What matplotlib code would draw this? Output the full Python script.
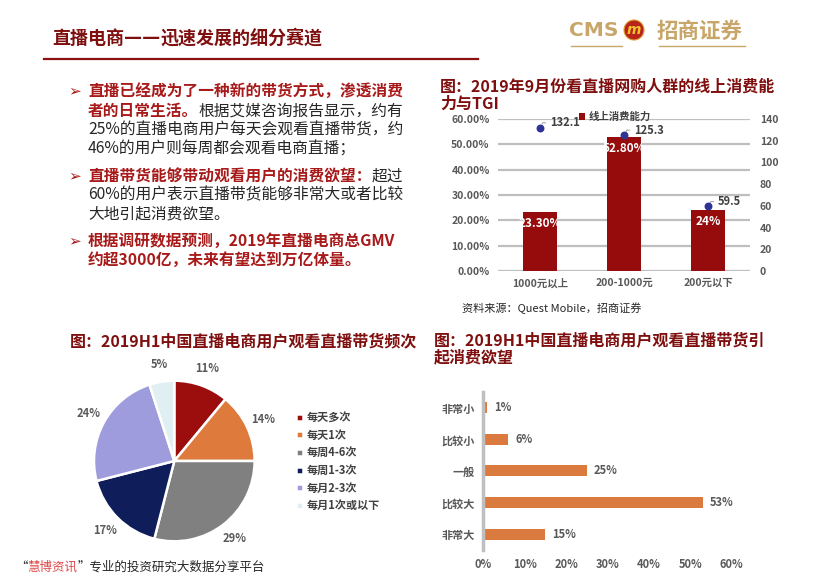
import numpy as np
import matplotlib
matplotlib.use("Agg")
import matplotlib.pyplot as plt
from matplotlib.patches import Circle, Rectangle

plt.rcParams['font.family'] = ['Noto Sans CJK SC', 'DejaVu Sans']

W, H = 815, 576
DARK_RED = '#7F0F0F'
TXT_RED = '#A81A1A'
GRAY = '#595959'
TAN = '#C8A66A'
BLK = '#262626'

# ---- 数据 ----
tgi_cats = ['1000元以上', '200-1000元', '200元以下']
tgi_share = [23.3, 52.8, 24.0]            # 线上消费能力(%)
tgi_share_lbl = ['23.30%', '52.80%', '24%']
tgi_vals = [132.1, 125.3, 59.5]           # TGI

freq_labels = ['每天多次', '每天1次', '每周4-6次', '每周1-3次', '每月2-3次', '每月1次或以下']
freq_vals = [11, 14, 29, 17, 24, 5]
freq_colors = ['#9C0E0E', '#DD7A3C', '#808080', '#0F1E5A', '#9E9CDC', '#DFEFF2']

desire_cats = ['非常小', '比较小', '一般', '比较大', '非常大']
desire_vals = [1, 6, 25, 53, 15]


def rect(x0, y0, x1, y1):
    """像素坐标(左上为原点) -> add_axes 所需的比例坐标"""
    return [x0 / W, 1 - y1 / H, (x1 - x0) / W, (y1 - y0) / H]


fig = plt.figure(figsize=(W / 100, H / 100), dpi=100)

# 背景层:用像素坐标放文字
bg = fig.add_axes([0, 0, 1, 1])
bg.set_xlim(0, W)
bg.set_ylim(H, 0)
bg.axis('off')


def rich_line(x, y, parts, size):
    """一行里多段不同颜色/粗细的文字,依次接在前一段后面"""
    prev = None
    for part in parts:
        s, color, weight = part[:3]
        kw = dict(color=color, fontweight=weight, fontsize=size, ha='left', va='center')
        if len(part) > 3:
            kw['family'] = part[3]
        if prev is None:
            prev = bg.text(x, y, s, **kw)
        else:
            prev = bg.annotate(s, xy=(1, 0.5), xycoords=prev, **kw)
    return prev


# ---- 页眉 ----
rich_line(52, 38, [('直播电商', DARK_RED, 'bold'),
                   ('——', DARK_RED, 'bold', ['DejaVu Sans']),
                   ('迅速发展的细分赛道', DARK_RED, 'bold')], 13)
bg.plot([44, 478], [58.5, 58.5], color='#8B1212', lw=1.6)

bg.text(569, 31, 'CMS', fontsize=14.5, fontweight='bold', color=TAN,
        family=['DejaVu Sans'], ha='left', va='center')
bg.add_patch(Circle((634, 30), 10, facecolor='#B8231B', edgecolor='#E0A030', lw=0.8))
bg.text(634, 30, 'm', fontsize=10, fontweight='bold', style='italic', color='#F2C230',
        family=['DejaVu Sans'], ha='center', va='center')
bg.text(657, 31, '招商证券', fontsize=15.5, fontweight='bold', color=TAN,
        ha='left', va='center')
bg.plot([571, 622], [46, 46], color=TAN, lw=1)
bg.plot([659, 745], [46, 46], color=TAN, lw=1)

# ---- 左上文字 ----
FS = 11.3
lines = [
    (91, True, [('直播已经成为了一种新的带货方式，渗透消费', TXT_RED, 'bold')]),
    (111, False, [('者的日常生活。', TXT_RED, 'bold'), ('根据艾媒咨询报告显示，约有', BLK, 'normal')]),
    (130, False, [('25%的直播电商用户每天会观看直播带货，约', BLK, 'normal')]),
    (149, False, [('46%的用户则每周都会观看电商直播；', BLK, 'normal')]),
    (176, True, [('直播带货能够带动观看用户的消费欲望：', TXT_RED, 'bold'), ('超过', BLK, 'normal')]),
    (195, False, [('60%的用户表示直播带货能够非常大或者比较', BLK, 'normal')]),
    (214, False, [('大地引起消费欲望。', BLK, 'normal')]),
    (241, True, [('根据调研数据预测，2019年直播电商总GMV', TXT_RED, 'bold')]),
    (260, False, [('约超3000亿，未来有望达到万亿体量。', TXT_RED, 'bold')]),
]
for y, bullet, parts in lines:
    if bullet:
        bg.text(68, y, '➢', fontsize=11, color=TXT_RED, family=['DejaVu Sans'],
                ha='left', va='center')
    rich_line(88, y, parts, FS)

# ---- 右上:线上消费能力与TGI ----
bg.text(440, 87, '图：2019年9月份看直播网购人群的线上消费能', fontsize=11.5,
        fontweight='bold', color=DARK_RED, ha='left', va='center')
t = bg.text(440, 104, '力与TGI', fontsize=11.5, fontweight='bold', color=DARK_RED,
            ha='left', va='center')
t.set_clip_path(Rectangle((0, 0), 497, H, transform=bg.transData))

ax1 = fig.add_axes(rect(498, 119, 750, 271))
x = np.arange(len(tgi_cats))
bars = ax1.bar(x, tgi_share, width=0.4, color='#960B0B', zorder=3, label='线上消费能力')
ax1.set_xlim(-0.5, 2.5)
ax1.set_ylim(0, 60)
ax1.set_yticks(np.arange(0, 61, 10))
ax1.set_yticklabels([f'{v:.2f}%' for v in np.arange(0, 61, 10)])
ax1.set_xticks(x)
ax1.set_xticklabels(tgi_cats)
ax1.yaxis.grid(True, color='#BFBFBF', lw=1.6)
ax1.set_axisbelow(True)
for s in ax1.spines.values():
    s.set_visible(False)
ax1.tick_params(length=0, labelsize=7.5, labelcolor=GRAY)
ax1.tick_params(axis='x', pad=5)
ax1.tick_params(axis='y', pad=6)
for lab in ax1.get_xticklabels() + ax1.get_yticklabels():
    lab.set_fontweight('bold')
for xi, v, lbl in zip(x, tgi_share, tgi_share_lbl):
    ax1.annotate(lbl, (xi, v), xytext=(0, -8), textcoords='offset points',
                 ha='center', va='center', color='white', fontsize=8.5, fontweight='bold')
ax1.legend(handles=[bars], loc='center left', bbox_to_anchor=(579 / W, 1 - 117 / H),
           bbox_transform=fig.transFigure, frameon=False, borderpad=0, borderaxespad=0,
           handlelength=0.6, handleheight=0.6, handletextpad=0.3,
           prop={'size': 7.5, 'weight': 'bold'}, labelcolor='#404040')

ax2 = ax1.twinx()
ax2.set_ylim(0, 140)
ax2.set_yticks(np.arange(0, 141, 20))
for s in ax2.spines.values():
    s.set_visible(False)
ax2.tick_params(length=0, labelsize=7.5, labelcolor=GRAY, pad=7)
for lab in ax2.get_yticklabels():
    lab.set_fontweight('bold')
ax2.scatter(x, tgi_vals, s=22, color='#2E3396', zorder=4)
for xi, v in zip(x, tgi_vals):
    ax2.annotate(f'{v}', (xi, v), xytext=(7, 3.5), textcoords='offset points',
                 ha='left', va='center', fontsize=8, fontweight='bold', color='#404040',
                 arrowprops=dict(arrowstyle='-', color='#A6A6A6', lw=0.8,
                                 shrinkA=1, shrinkB=3,
                                 connectionstyle='angle,angleA=0,angleB=60'))

bg.text(462, 308, '资料来源：Quest Mobile，招商证券', fontsize=8, color=BLK,
        ha='left', va='center')

# ---- 左下:观看频次饼图 ----
bg.text(70, 341, '图：2019H1中国直播电商用户观看直播带货频次', fontsize=11.5,
        fontweight='bold', color=DARK_RED, ha='left', va='center')
axp = fig.add_axes(rect(94, 380.7, 254.6, 541.3))
wedges, _, autotexts = axp.pie(
    freq_vals, colors=freq_colors, startangle=90, counterclock=False,
    wedgeprops=dict(edgecolor='white', linewidth=1.8),
    autopct=lambda p: f'{p:.0f}%', pctdistance=1.22)
for at in autotexts:
    at.set_color(GRAY)
    at.set_fontsize(8)
    at.set_fontweight('bold')
axp.set_xlim(-1, 1)
axp.set_ylim(-1, 1)
fig.legend(wedges, freq_labels, loc='upper left',
           bbox_to_anchor=(296 / W, 1 - 411 / H), frameon=False,
           borderpad=0, borderaxespad=0, handlelength=0.6, handleheight=0.6,
           handletextpad=0.4, labelspacing=0.42, prop={'size': 8, 'weight': 'bold'},
           labelcolor='#404040')

# ---- 右下:引起消费欲望条形图 ----
bg.text(434, 340, '图：2019H1中国直播电商用户观看直播带货引', fontsize=11.5,
        fontweight='bold', color=DARK_RED, ha='left', va='center')
bg.text(434, 357, '起消费欲望', fontsize=11.5, fontweight='bold', color=DARK_RED,
        ha='left', va='center')
axb = fig.add_axes(rect(483.3, 391.7, 731.7, 550))
yy = np.arange(len(desire_cats))
axb.barh(yy, desire_vals, height=0.34, color='#DA7A3E')
axb.set_ylim(4.5, -0.5)
axb.set_xlim(0, 60)
axb.set_xticks(np.arange(0, 61, 10))
axb.set_xticklabels([f'{v}%' for v in range(0, 61, 10)])
axb.set_yticks(yy)
axb.set_yticklabels(desire_cats)
for k in ['top', 'right', 'bottom']:
    axb.spines[k].set_visible(False)
axb.spines['left'].set_color('#BFBFBF')
axb.spines['left'].set_linewidth(2.5)
axb.tick_params(length=0, labelsize=8, labelcolor=GRAY)
axb.tick_params(axis='x', pad=6)
axb.tick_params(axis='y', pad=6)
for lab in axb.get_xticklabels() + axb.get_yticklabels():
    lab.set_fontweight('bold')
for yi, v in zip(yy, desire_vals):
    axb.annotate(f'{v}%', (v, yi), xytext=(5, 0), textcoords='offset points',
                 ha='left', va='center', fontsize=8, fontweight='bold', color=GRAY)

# ---- 页脚 ----
rich_line(15, 567, [('“', BLK, 'normal'), ('慧博资讯', '#E04848', 'normal'),
                    ('”专业的投资研究大数据分享平台', BLK, 'normal')], 9)

fig.savefig('out.png', dpi=100)
